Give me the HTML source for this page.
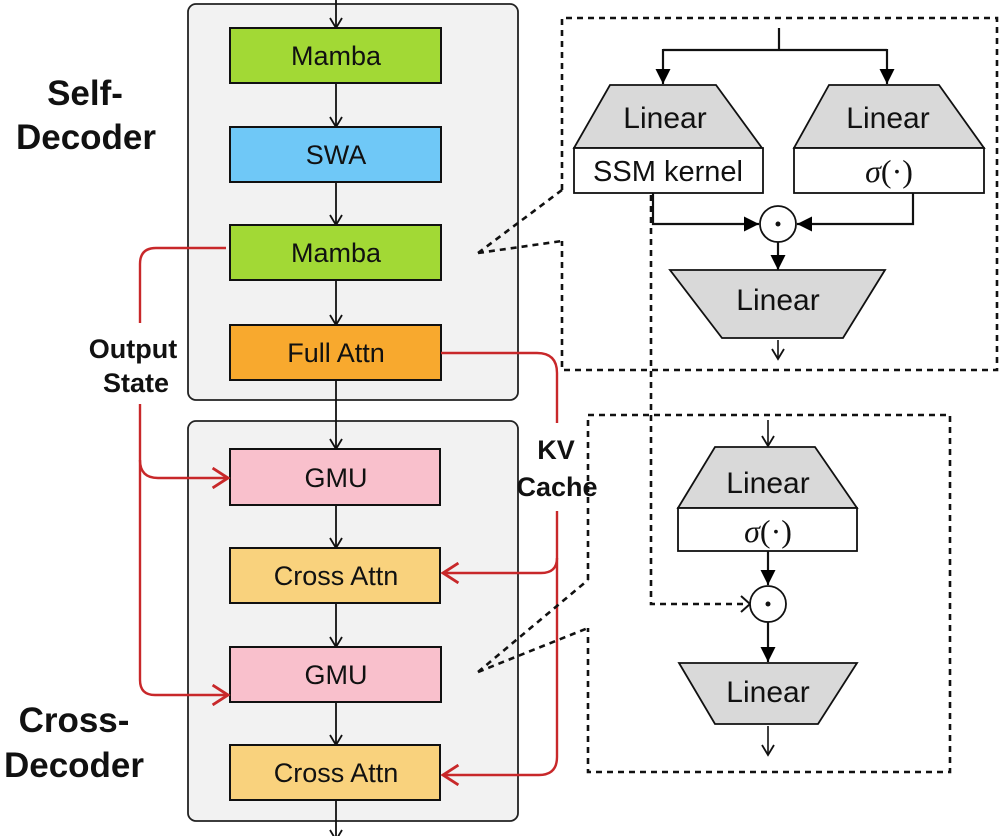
<!DOCTYPE html>
<html><head><meta charset="utf-8"><style>
html,body{margin:0;padding:0;background:#fff;}
svg{display:block;}
text{font-family:"Liberation Sans",sans-serif;}
</style></head><body>
<svg width="1000" height="836" viewBox="0 0 1000 836" xmlns="http://www.w3.org/2000/svg">
<defs>
<marker id="oa" viewBox="0 0 14 14" refX="12" refY="7" markerWidth="14" markerHeight="14" markerUnits="userSpaceOnUse" orient="auto"><path d="M2,1 L12,7 L2,13" fill="none" stroke="#111" stroke-width="1.8"/></marker>
<marker id="ra" viewBox="0 0 20 20" refX="17" refY="10" markerWidth="22" markerHeight="22" markerUnits="userSpaceOnUse" orient="auto"><path d="M3,1 L17,10 L3,19" fill="none" stroke="#c8282a" stroke-width="2.6"/></marker>
<marker id="fa" viewBox="0 0 10 10" refX="10" refY="5" markerWidth="15" markerHeight="15" markerUnits="userSpaceOnUse" orient="auto"><path d="M0,0 L10,5 L0,10 z" fill="#000"/></marker>
</defs>
<rect x="188" y="4" width="330" height="396" rx="8" fill="#f2f2f2" stroke="#222" stroke-width="1.8"/>
<rect x="188" y="421" width="330" height="400" rx="8" fill="#f2f2f2" stroke="#222" stroke-width="1.8"/>
<g stroke="#111" stroke-width="1.8" fill="none" marker-end="url(#oa)">
<line x1="336" y1="0" x2="336" y2="28"/>
<line x1="336" y1="83" x2="336" y2="127"/>
<line x1="336" y1="182" x2="336" y2="225"/>
<line x1="336" y1="280" x2="336" y2="325"/>
<line x1="336" y1="380" x2="336" y2="449"/>
<line x1="336" y1="505" x2="336" y2="548"/>
<line x1="336" y1="603" x2="336" y2="647"/>
<line x1="336" y1="702" x2="336" y2="745"/>
<line x1="336" y1="800" x2="336" y2="840"/>
</g>
<g stroke="#111" stroke-width="2">
<rect x="230" y="28" width="211" height="55" fill="#a2d935"/>
<rect x="230" y="127" width="211" height="55" fill="#6fc8f7"/>
<rect x="230" y="225" width="211" height="55" fill="#a2d935"/>
<rect x="230" y="325" width="211" height="55" fill="#f8a92e"/>
<rect x="230" y="449" width="210" height="56" fill="#f9c0cc"/>
<rect x="230" y="548" width="210" height="55" fill="#f9d27d"/>
<rect x="230" y="647" width="211" height="55" fill="#f9c0cc"/>
<rect x="230" y="745" width="210" height="55" fill="#f9d27d"/>
</g>
<g font-size="27" text-anchor="middle" fill="#111">
<text x="336" y="65">Mamba</text>
<text x="336" y="164">SWA</text>
<text x="336" y="262">Mamba</text>
<text x="336" y="362">Full Attn</text>
<text x="336" y="487">GMU</text>
<text x="336" y="585">Cross Attn</text>
<text x="336" y="684">GMU</text>
<text x="336" y="782">Cross Attn</text>
</g>
<g font-weight="bold" text-anchor="middle" fill="#111">
<text x="85" y="105" font-size="35">Self-</text>
<text x="86" y="149" font-size="35">Decoder</text>
<text x="74" y="732" font-size="35">Cross-</text>
<text x="74" y="777" font-size="35">Decoder</text>
<text x="133" y="358" font-size="27">Output</text>
<text x="136" y="392" font-size="27">State</text>
<text x="556" y="459" font-size="27">KV</text>
<text x="557" y="496" font-size="27">Cache</text>
</g>
<g stroke="#c8282a" stroke-width="2.4" fill="none">
<path d="M226,248 H156 Q140,248 140,264 V323"/>
<path d="M140,404 V680 Q140,695 155,695 H228" marker-end="url(#ra)"/>
<path d="M140,460 Q140,478 158,478 H228" marker-end="url(#ra)"/>
<path d="M441,353 H537 Q557,353 557,373 V423"/>
<path d="M557,511 V757 Q557,775 539,775 H443" marker-end="url(#ra)"/>
<path d="M557,558 Q557,573 541,573 H443" marker-end="url(#ra)"/>
</g>
<g stroke="#111" stroke-width="2.6" fill="none" stroke-dasharray="6,5">
<path d="M562,190 V18 H997 V370 H562 V241"/>
<path d="M588,580 V415 H950 V772 H588 V628"/>
<path d="M478,253 L562,190 M478,253 L562,241"/>
<path d="M478,672 L588,580 M478,672 L588,628"/>
<path d="M651,195 V604 H748"/>
</g>
<path d="M741,596 L750,604 L741,612" fill="none" stroke="#111" stroke-width="2"/>
<g stroke="#111" stroke-width="2.2" fill="none">
<path d="M779,28 V50 M663,50 H887"/>
<line x1="663" y1="49" x2="663" y2="84" marker-end="url(#fa)"/>
<line x1="887" y1="49" x2="887" y2="84" marker-end="url(#fa)"/>
<path d="M653,193 V224 H759" marker-end="url(#fa)"/>
<path d="M913,193 V224 H797" marker-end="url(#fa)"/>
<line x1="778" y1="242" x2="778" y2="270" marker-end="url(#fa)"/>
</g>
<g stroke="#111" stroke-width="1.8">
<polygon points="610,85 716,85 762,148 574,148" fill="#d9d9d9"/>
<rect x="574" y="148" width="189" height="45" fill="#fff"/>
<polygon points="829,85 939,85 984,148 794,148" fill="#d9d9d9"/>
<rect x="794" y="148" width="190" height="45" fill="#fff"/>
<polygon points="670,270 885,270 843,338 722,338" fill="#d9d9d9"/>
<circle cx="778" cy="224" r="18" fill="#fff"/>
</g>
<circle cx="778" cy="224" r="2.5" fill="#111"/>
<line x1="778" y1="340" x2="778" y2="359" stroke="#111" stroke-width="1.6" marker-end="url(#oa)"/>
<line x1="768" y1="420" x2="768" y2="446" stroke="#111" stroke-width="1.6" marker-end="url(#oa)"/>
<g stroke="#111" stroke-width="1.8">
<polygon points="715,447 815,447 857,508 678,508" fill="#d9d9d9"/>
<rect x="678" y="508" width="179" height="43" fill="#fff"/>
<polygon points="679,663 857,663 818,724 715,724" fill="#d9d9d9"/>
<circle cx="768" cy="604" r="18" fill="#fff"/>
</g>
<circle cx="768" cy="604" r="2.5" fill="#111"/>
<g stroke="#111" stroke-width="2.2">
<line x1="768" y1="551" x2="768" y2="585" marker-end="url(#fa)"/>
<line x1="768" y1="622" x2="768" y2="662" marker-end="url(#fa)"/>
</g>
<line x1="768" y1="726" x2="768" y2="755" stroke="#111" stroke-width="1.6" marker-end="url(#oa)"/>
<g font-size="30" text-anchor="middle" fill="#111">
<text x="665" y="128">Linear</text>
<text x="888" y="128">Linear</text>
<text x="778" y="310">Linear</text>
<text x="768" y="493">Linear</text>
<text x="768" y="702">Linear</text>
<text x="668" y="181" font-size="29">SSM kernel</text>
</g>
<g text-anchor="middle" fill="#111" font-size="32">
<text x="889" y="182" style="font-family:'Liberation Serif',serif"><tspan font-style="italic">σ</tspan>(·)</text>
<text x="768" y="542" style="font-family:'Liberation Serif',serif"><tspan font-style="italic">σ</tspan>(·)</text>
</g>
</svg>
</body></html>
